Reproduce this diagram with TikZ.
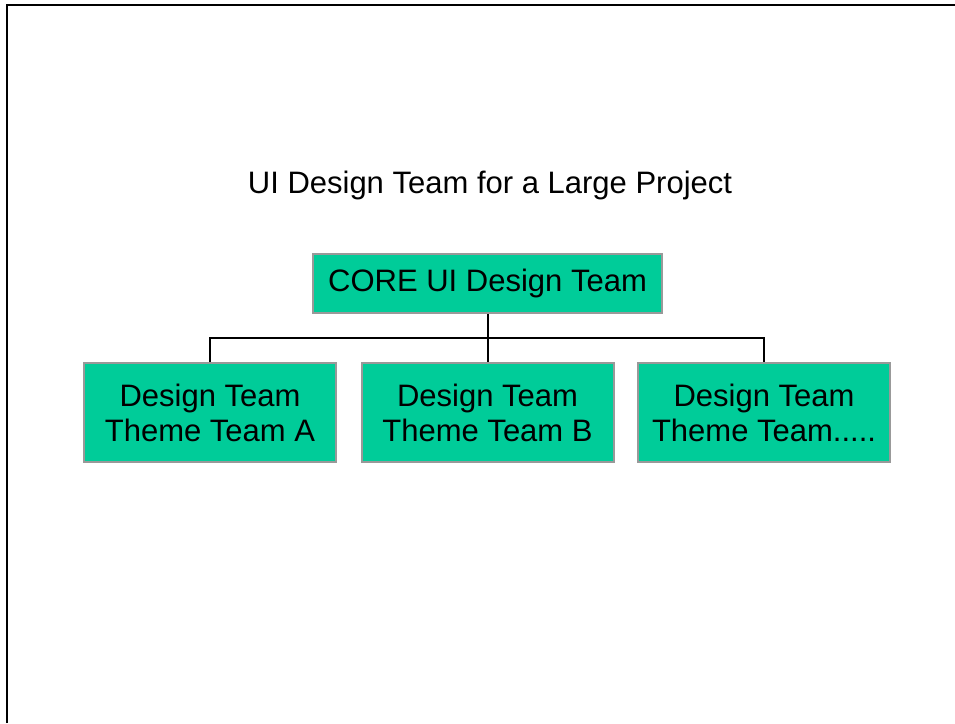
\documentclass[tikz,border=0pt]{standalone}
\usepackage{fontspec}
\setmainfont{Liberation Sans}
\usepackage{xcolor}
\definecolor{teamgreen}{HTML}{00CC99}
\definecolor{teamedge}{HTML}{999999}
\usepackage{tikz}
\usetikzlibrary{positioning,calc}

\begin{document}
\begin{tikzpicture}[x=1pt,y=-1pt,
  teambox/.style={draw=teamedge,line width=2pt,fill=teamgreen,align=center,
    inner sep=0pt,font=\fontsize{31}{35}\selectfont},
  orgline/.style={black,line width=2pt}]
\useasboundingbox (0,0) rectangle (955,723);
% slide frame
\draw[line width=2.2pt] (7,723) -- (7,5) -- (955,5);
% title
\node[font=\fontsize{31}{35}\selectfont] (title) at (490,185) {UI Design Team for a Large Project};
% boxes
\node[teambox,minimum width=349pt,minimum height=59pt] (core) at (487.5,283.5) {CORE UI Design Team};
\node[teambox,minimum width=252pt,minimum height=99pt] (teamA) at (210,412.5) {Design Team\\Theme Team A};
\node[teambox,minimum width=252pt,minimum height=99pt] (teamB) at (487.5,412.5) {Design Team\\Theme Team B};
\node[teambox,minimum width=252pt,minimum height=99pt] (teamC) at (764,412.5) {Design Team\\Theme Team.....};
% connectors
\coordinate (bus) at (487.5,338);
\draw[orgline] (core.south) -- (teamB.north);
\draw[orgline] (teamA.north) -- (teamA.north|-bus) -- (teamC.north|-bus) -- (teamC.north);
\end{tikzpicture}
\end{document}
